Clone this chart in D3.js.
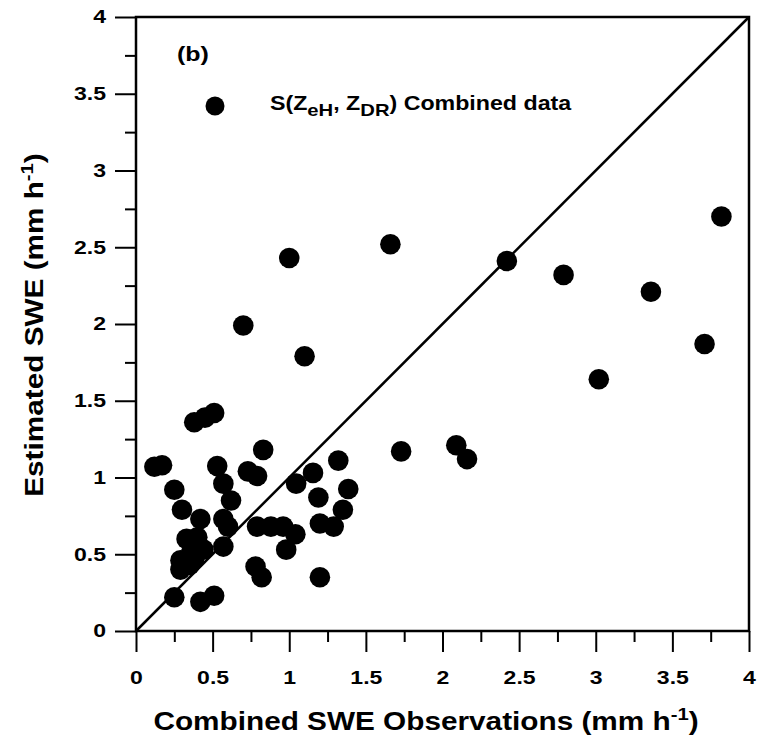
<!DOCTYPE html>
<html>
<head>
<meta charset="utf-8">
<script src="https://cdn.jsdelivr.net/npm/d3@7"></script>
<style>
  body { margin: 0; background: #fff; }
  svg text { font-family: "Liberation Sans", Arial, sans-serif; font-weight: bold; fill: #000; }
</style>
</head>
<body>
<div id="chart"></div>
<script>
// observed vs estimated SWE (mm h-1)
const obsSWE = [
  0.12, 0.17, 0.38, 0.45, 0.51, 0.25, 0.30, 0.42, 0.53, 0.57,
  0.57, 0.60, 0.57, 0.62, 0.73, 0.79, 0.83, 0.79, 0.88, 0.96,
  1.04, 0.98, 1.045, 1.155, 1.32, 1.385, 1.19, 1.35, 1.20, 1.29,
  0.78, 0.82, 1.20, 0.33, 0.40, 0.36, 0.44, 0.29, 0.29, 0.35,
  0.38, 0.25, 0.42, 0.51, 0.70, 1.10, 1.00, 1.66, 2.42, 2.79,
  3.36, 3.82, 3.71, 3.02, 2.09, 2.16, 1.73
];
const estSWE = [
  1.07, 1.08, 1.36, 1.39, 1.42, 0.92, 0.79, 0.73, 1.075, 0.96,
  0.73, 0.68, 0.55, 0.85, 1.04, 1.01, 1.18, 0.68, 0.68, 0.68,
  0.63, 0.53, 0.96, 1.03, 1.11, 0.925, 0.87, 0.79, 0.70, 0.68,
  0.42, 0.35, 0.35, 0.60, 0.61, 0.51, 0.53, 0.46, 0.40, 0.43,
  0.47, 0.22, 0.19, 0.23, 1.99, 1.79, 2.43, 2.52, 2.41, 2.32,
  2.21, 2.70, 1.87, 1.64, 1.21, 1.12, 1.17
];
const majorTicks = [0, 0.5, 1, 1.5, 2, 2.5, 3, 3.5, 4];
const minorTicks = [0.25, 0.75, 1.25, 1.75, 2.25, 2.75, 3.25, 3.75];
const oneToOne = [0, 4];

const width = 760, height = 742;
const margin = { top: 17, right: 11, bottom: 111, left: 136 };
const plotW = width - margin.left - margin.right;
const plotH = height - margin.top - margin.bottom;

// the original lettering is wide, so text gets a horizontal stretch
const tickStretch = 1.28;
const textStretch = 1.19;

const svg = d3.select('#chart').append('svg')
  .attr('width', width)
  .attr('height', height);

const g = svg.append('g')
  .attr('transform', `translate(${margin.left},${margin.top})`);

const x = d3.scaleLinear().domain([0, 4]).range([0, plotW]);
const y = d3.scaleLinear().domain([0, 4]).range([plotH, 0]);

// minor ticks first, no labels
g.append('g')
  .attr('transform', `translate(0,${plotH})`)
  .call(d3.axisBottom(x).tickValues(minorTicks).tickSize(11).tickFormat(''))
  .call(a => a.select('.domain').remove());
g.append('g')
  .call(d3.axisLeft(y).tickValues(minorTicks).tickSize(11).tickFormat(''))
  .call(a => a.select('.domain').remove());

const xAxis = g.append('g')
  .attr('transform', `translate(0,${plotH})`)
  .call(d3.axisBottom(x).tickValues(majorTicks).tickSize(21).tickPadding(19).tickFormat(d => String(d)))
  .call(a => a.select('.domain').remove());
const yAxis = g.append('g')
  .call(d3.axisLeft(y).tickValues(majorTicks).tickSize(21).tickPadding(9).tickFormat(d => String(d)))
  .call(a => a.select('.domain').remove());

g.selectAll('.tick line').attr('stroke', '#000').attr('stroke-width', 2);
g.selectAll('.tick text')
  .style('font-size', '18px')
  .style('font-family', '"Liberation Sans", Arial, sans-serif')
  .style('font-weight', 'bold');
xAxis.selectAll('.tick text')
  .attr('transform', `scale(${tickStretch},1)`);
yAxis.selectAll('.tick text')
  .attr('x', -30 / tickStretch)
  .attr('transform', `scale(${tickStretch},1)`);

// frame
g.append('rect')
  .attr('width', plotW)
  .attr('height', plotH)
  .attr('fill', 'none')
  .attr('stroke', '#000')
  .attr('stroke-width', 2.5);

// 1:1 line
g.append('line')
  .attr('x1', x(oneToOne[0])).attr('y1', y(oneToOne[0]))
  .attr('x2', x(oneToOne[1])).attr('y2', y(oneToOne[1]))
  .attr('stroke', '#000')
  .attr('stroke-width', 2.5);

// points
g.selectAll('circle.pt')
  .data(obsSWE.map((v, i) => ({ x: v, y: estSWE[i] })))
  .join('circle')
  .attr('class', 'pt')
  .attr('cx', d => x(d.x))
  .attr('cy', d => y(d.y))
  .attr('r', 10.3)
  .attr('fill', '#000');

// panel label
g.append('text')
  .attr('transform', `translate(41,44) scale(1.25,1)`)
  .style('font-size', '20px')
  .text('(b)');

// legend
g.append('circle')
  .attr('cx', 79)
  .attr('cy', 89)
  .attr('r', 9.5)
  .attr('fill', '#000');

const leg = g.append('text')
  .attr('transform', `translate(134,93) scale(${textStretch},1)`)
  .style('font-size', '19.5px');
leg.append('tspan').text('S(Z');
leg.append('tspan').attr('dy', 6).style('font-size', '17px').text('eH');
leg.append('tspan').attr('dy', -6).text(', Z');
leg.append('tspan').attr('dy', 6).style('font-size', '17px').text('DR');
leg.append('tspan').attr('dy', -6).text(') Combined data');

// axis titles
const xTitle = svg.append('text')
  .attr('transform', `translate(426,730) scale(${textStretch},1)`)
  .attr('text-anchor', 'middle')
  .style('font-size', '25px');
xTitle.append('tspan').text('Combined SWE Observations (mm h');
xTitle.append('tspan').attr('dy', -10).style('font-size', '17px').text('-1');
xTitle.append('tspan').attr('dy', 10).text(')');

const yTitle = svg.append('text')
  .attr('transform', `translate(43,325) rotate(-90) scale(${textStretch},1)`)
  .attr('text-anchor', 'middle')
  .style('font-size', '25px');
yTitle.append('tspan').text('Estimated SWE (mm h');
yTitle.append('tspan').attr('dy', -10).style('font-size', '17px').text('-1');
yTitle.append('tspan').attr('dy', 10).text(')');
</script>
</body>
</html>
